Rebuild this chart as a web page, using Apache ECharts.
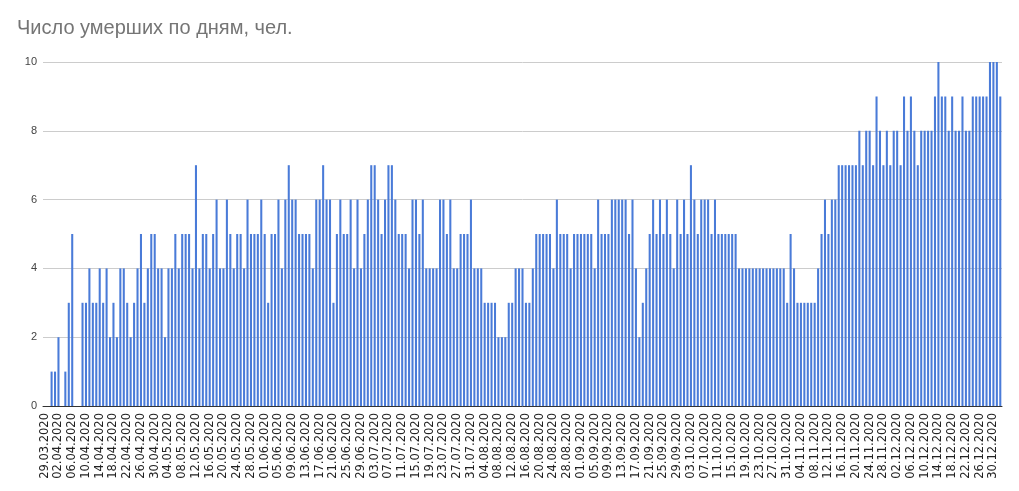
<!DOCTYPE html>
<html>
<head>
<meta charset="utf-8">
<script src="https://cdn.jsdelivr.net/npm/echarts@6/dist/echarts.min.js"></script>
<style>
html,body{margin:0;padding:0;background:#fff;}
#chart{width:1019px;height:491px;}
</style>
</head>
<body>
<div id="chart"></div>
<script>
// Deaths per day, 29.03.2020 .. 01.01.2021
const startDay = [2020, 3, 29];
const deaths = [
  0,0,1,1,2,0,1,3,5,0, 0,3,3,4,3,3,4,3,4,2,
  3,2,4,4,3,2,3,4,5,3, 4,5,5,4,4,2,4,4,5,4,
  5,5,5,4,7,4,5,5,4,5, 6,4,4,6,5,4,5,5,4,6,
  5,5,5,6,5,3,5,5,6,4, 6,7,6,6,5,5,5,5,4,6,
  6,7,6,6,3,5,6,5,5,6, 4,6,4,5,6,7,7,6,5,6,
  7,7,6,5,5,5,4,6,6,5, 6,4,4,4,4,6,6,5,6,4,
  4,5,5,5,6,4,4,4,3,3, 3,3,2,2,2,3,3,4,4,4,
  3,3,4,5,5,5,5,5,4,6, 5,5,5,4,5,5,5,5,5,5,
  4,6,5,5,5,6,6,6,6,6, 5,6,4,2,3,4,5,6,5,6,
  5,6,5,4,6,5,6,5,7,6, 5,6,6,6,5,6,5,5,5,5,
  5,5,4,4,4,4,4,4,4,4, 4,4,4,4,4,4,3,5,4,3,
  3,3,3,3,3,4,5,6,5,6, 6,7,7,7,7,7,7,8,7,8,
  8,7,9,8,7,8,7,8,8,7, 9,8,9,8,7,8,8,8,8,9,
  10,9,9,8,9,8,8,9,8,8, 9,9,9,9,9,10,10,10,9
];
const yTicks = [0, 2, 4, 6, 8, 10];
const titleText = 'Число умерших по дням, чел.';

const categories = [];
{
  const d = new Date(Date.UTC(startDay[0], startDay[1] - 1, startDay[2]));
  for (let i = 0; i < deaths.length; i++) {
    const dd = String(d.getUTCDate()).padStart(2, '0');
    const mm = String(d.getUTCMonth() + 1).padStart(2, '0');
    categories.push(dd + '.' + mm + '.' + d.getUTCFullYear());
    d.setUTCDate(d.getUTCDate() + 1);
  }
}

const chart = echarts.init(document.getElementById('chart'), null, {renderer: 'canvas'});
chart.setOption({
  animation: false,
  backgroundColor: '#ffffff',
  title: {
    text: titleText,
    left: 12,
    top: 13,
    textStyle: {
      fontFamily: 'Liberation Sans, Arial, sans-serif',
      fontSize: 20,
      fontWeight: 'normal',
      color: '#757575'
    }
  },
  grid: {left: 43, right: 17, top: 62, bottom: 85, containLabel: false},
  xAxis: {
    type: 'category',
    data: categories,
    boundaryGap: true,
    axisLine: {show: true, lineStyle: {color: '#333333', width: 1}},
    axisTick: {show: false},
    axisLabel: {
      interval: 3,
      rotate: 90,
      margin: 7,
      fontFamily: 'DejaVu Sans, sans-serif',
      fontSize: 11.5,
      color: '#222222'
    }
  },
  yAxis: {
    type: 'value',
    min: yTicks[0],
    max: yTicks[yTicks.length - 1],
    interval: 2,
    axisLine: {show: false},
    axisTick: {show: false},
    splitLine: {lineStyle: {color: '#cccccc', width: 1}},
    axisLabel: {
      margin: 6,
      fontFamily: 'Liberation Sans, Arial, sans-serif',
      fontSize: 11,
      color: '#444444'
    }
  },
  series: [{
    type: 'bar',
    data: deaths,
    barWidth: '60%',
    itemStyle: {color: '#4a7bd8'}
  }]
});
</script>
</body>
</html>
